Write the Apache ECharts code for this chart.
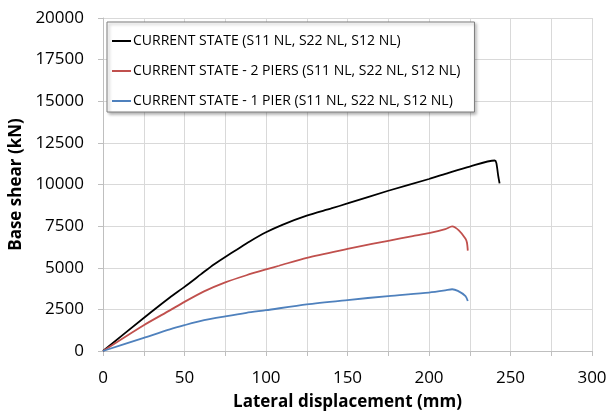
<!DOCTYPE html>
<html>
<head>
<meta charset="utf-8">
<script src="https://cdn.jsdelivr.net/npm/echarts@6/dist/echarts.min.js"></script>
<style>html,body{margin:0;padding:0;background:#fff}#c{width:609px;height:412px}</style>
</head>
<body>
<div id="c"></div>
<script>
const seriesNames = [
  'CURRENT STATE (S11 NL, S22 NL, S12 NL)',
  'CURRENT STATE - 2 PIERS (S11 NL, S22 NL, S12 NL)',
  'CURRENT STATE - 1 PIER (S11 NL, S22 NL, S12 NL)'
];
const blackX = [0, 25, 41, 50, 60, 68, 75, 82, 90, 100, 110, 125, 140, 150, 175, 200, 212, 225, 240.3, 241.3, 242.5, 243.3];
const blackY = [0, 1980, 3210, 3850, 4600, 5200, 5650, 6080, 6580, 7130, 7580, 8130, 8560, 8860, 9625, 10330, 10700, 11080, 11440, 11300, 10500, 10070];
const redX = [0, 25, 41, 50, 62, 75, 88, 100, 108, 125, 150, 165, 175, 190, 200, 210, 214.2, 218.3, 222.4, 223.3, 223.8];
const redY = [0, 1550, 2440, 2950, 3580, 4120, 4550, 4900, 5120, 5600, 6130, 6430, 6620, 6900, 7080, 7320, 7480, 7240, 6740, 6500, 6030];
const blueX = [0, 25, 41, 50, 62, 75, 88, 100, 125, 150, 175, 200, 210, 214.2, 217.7, 222.4, 223.8];
const blueY = [0, 790, 1300, 1550, 1850, 2080, 2290, 2450, 2800, 3060, 3300, 3510, 3640, 3710, 3610, 3300, 3000];
const colors = ['#000000', '#c0504d', '#4f81bd'];
const xTitle = 'Lateral displacement (mm)';
const yTitle = 'Base shear (kN)';

const zip = (xs, ys) => xs.map((x, i) => [x, ys[i]]);
const datasets = [zip(blackX, blackY), zip(redX, redY), zip(blueX, blueY)];
const font = '"Open Sans", "Noto Sans", sans-serif';

const chart = echarts.init(document.getElementById('c'), null, {renderer: 'canvas'});
chart.setOption({
  animation: false,
  backgroundColor: '#fff',
  grid: {left: 103, right: 17, top: 18, bottom: 61, containLabel: false, outerBoundsMode: 'none'},
  legend: {
    orient: 'vertical',
    left: 107, top: 22,
    padding: [12, 14, 4, 5],
    itemGap: 16,
    itemWidth: 19, itemHeight: 2,
    icon: 'rect',
    backgroundColor: '#fff',
    borderColor: '#7f7f7f', borderWidth: 1,
    shadowColor: 'rgba(0,0,0,0.3)', shadowBlur: 3, shadowOffsetX: 2, shadowOffsetY: 2,
    textStyle: {fontFamily: font, fontSize: 14, color: '#000', padding: [0, 0, 0, -3]},
    data: seriesNames
  },
  xAxis: {
    type: 'value', min: 0, max: 300, interval: 25,
    name: xTitle, nameLocation: 'middle', nameGap: 43,
    nameTextStyle: {fontFamily: font, fontSize: 17, fontWeight: 'bold', color: '#000'},
    axisLine: {show: true, lineStyle: {color: '#bfbfbf'}},
    axisTick: {show: true, length: 5, lineStyle: {color: '#bfbfbf'}},
    axisLabel: {fontFamily: font, fontSize: 17, color: '#000', margin: 19,
      formatter: v => (v % 50 === 0 ? String(v) : '')},
    splitLine: {show: true, lineStyle: {color: '#d9d9d9'}}
  },
  yAxis: {
    type: 'value', min: 0, max: 20000, interval: 2500,
    name: yTitle, nameLocation: 'middle', nameGap: 71, nameRotate: 90,
    nameTextStyle: {fontFamily: font, fontSize: 17, fontWeight: 'bold', color: '#000'},
    axisLine: {show: true, lineStyle: {color: '#bfbfbf'}},
    axisTick: {show: true, length: 5, lineStyle: {color: '#bfbfbf'}},
    axisLabel: {fontFamily: font, fontSize: 17, color: '#000', margin: 19,
      formatter: v => String(v)},
    splitLine: {show: true, lineStyle: {color: '#d9d9d9'}}
  },
  series: seriesNames.map((n, i) => ({
    name: n, type: 'line', data: datasets[i],
    showSymbol: false, symbol: 'none', smooth: 0.25,
    lineStyle: {color: colors[i], width: 1.8},
    itemStyle: {color: colors[i]}
  }))
});
</script>
</body>
</html>
